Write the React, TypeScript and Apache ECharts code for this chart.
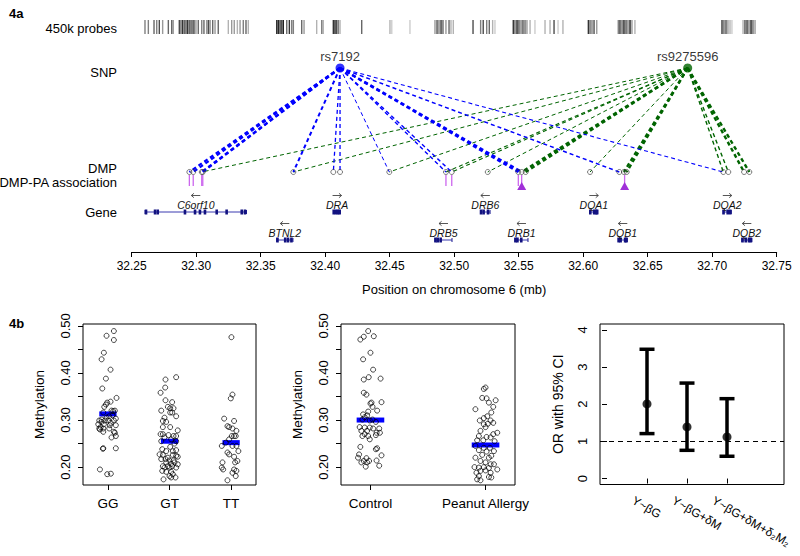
import React, { useEffect, useRef } from "react";
import * as echarts from "echarts";

const FONT = '"Liberation Sans", Arial, Helvetica, sans-serif';

// ---------- 4a data ----------
const axisName = "Position on chromosome 6 (mb)";
// 450k probe positions (mb) with grey intensity
const probeData: number[][] = [
  [32.2603, 0.5], [32.2629, 0.5], [32.2673, 0.6], [32.2694, 0.5], [32.2714, 0.7], [32.274, 0.4],
  [32.2784, 0.6], [32.281, 0.6], [32.2822, 0.4], [32.2869, 0.7], [32.2882, 0.6], [32.2895, 0.8],
  [32.2908, 0.6], [32.2921, 0.7], [32.2934, 0.8], [32.2947, 0.6], [32.296, 0.7], [32.2973, 0.5],
  [32.2983, 0.7], [32.2998, 0.4], [32.3016, 0.6], [32.3043, 0.5], [32.306, 0.6], [32.3081, 0.4],
  [32.3094, 0.7], [32.3107, 0.5], [32.3128, 0.6], [32.3146, 0.4], [32.3171, 0.6], [32.3249, 0.3],
  [32.3275, 0.4], [32.3295, 0.4], [32.3319, 0.3], [32.334, 0.4], [32.3365, 0.5], [32.3386, 0.6],
  [32.3404, 0.3],
  [32.3624, 0.8], [32.3636, 0.9], [32.365, 0.8], [32.3663, 0.7], [32.3675, 0.9], [32.3702, 0.6],
  [32.3722, 0.8], [32.374, 0.5], [32.3753, 0.5], [32.3818, 0.6], [32.3836, 0.4], [32.3934, 0.3],
  [32.3973, 0.5], [32.3985, 0.3], [32.4063, 0.8], [32.4076, 0.9], [32.4089, 0.7], [32.4102, 0.5],
  [32.4115, 0.3], [32.4283, 0.6], [32.4502, 0.3], [32.4516, 0.2], [32.4657, 0.2],
  [32.4851, 0.4], [32.4867, 0.7], [32.4882, 0.5], [32.4898, 0.8], [32.4913, 0.6], [32.4936, 0.4],
  [32.496, 0.6], [32.4975, 0.3], [32.4993, 0.3], [32.5146, 0.7], [32.5205, 0.5], [32.5225, 0.7],
  [32.5252, 0.5], [32.5272, 0.6], [32.5298, 0.3], [32.5316, 0.2], [32.5458, 0.8], [32.5471, 0.6],
  [32.5487, 0.9], [32.5502, 0.7], [32.5518, 0.5], [32.5533, 0.7], [32.5549, 0.6], [32.5564, 0.4],
  [32.5588, 0.3], [32.5626, 0.2], [32.5704, 0.3], [32.5743, 0.3], [32.5774, 0.7], [32.5805, 0.2],
  [32.5843, 0.3], [32.604, 0.8], [32.6053, 0.6], [32.6068, 0.5], [32.6084, 0.7], [32.6105, 0.4],
  [32.6272, 0.5], [32.6285, 0.8], [32.6301, 0.6], [32.6316, 0.9], [32.6332, 0.7], [32.6347, 0.5],
  [32.6363, 0.9], [32.6378, 0.4], [32.6401, 0.3], [32.7076, 0.8], [32.7091, 0.6], [32.7107, 0.7],
  [32.7122, 0.4], [32.7138, 0.3], [32.7153, 0.2], [32.7239, 0.3], [32.7254, 0.7], [32.727, 0.8],
  [32.7285, 0.5], [32.7301, 0.9], [32.7316, 0.6], [32.7332, 0.4],
];

const snpNames = ["rs7192", "rs9275596"];
const snpPos = [32.4115, 32.681];
const snpColors = ["#0000ff", "#006400"];

const dmpPos = [
  32.2947, 32.2977, 32.3043, 32.3051, 32.3753, 32.4063, 32.4115, 32.4497, 32.4936, 32.4981, 32.526,
  32.5497, 32.5523, 32.5554, 32.6053, 32.628, 32.6316, 32.6337, 32.7086, 32.7125, 32.7247, 32.7288,
];

// links: [dmp position, snp index, line weight]
const blueLinks: number[][] = [
  [32.2947, 0, 2.2], [32.2977, 0, 2.2], [32.3043, 0, 2.2], [32.3051, 0, 2.2], [32.3753, 0, 2],
  [32.4063, 0, 1.3], [32.4115, 0, 1.3], [32.4497, 0, 1], [32.4936, 0, 1.4], [32.4981, 0, 1.4],
  [32.5497, 0, 2.4], [32.5523, 0, 2.4], [32.628, 0, 1.5], [32.7086, 0, 1.1],
];
const greenLinks: number[][] = [
  [32.3043, 1, 1], [32.3753, 1, 1], [32.4497, 1, 1], [32.4936, 1, 1.1], [32.4981, 1, 1.1],
  [32.526, 1, 1], [32.5523, 1, 2.4], [32.5554, 1, 2.4], [32.6053, 1, 1], [32.6316, 1, 2.4],
  [32.6337, 1, 2.4], [32.7086, 1, 1.4], [32.7125, 1, 1.4], [32.7247, 1, 2.4], [32.7288, 1, 2.4],
];

const assocPos = [32.2947, 32.2977, 32.3043, 32.3051, 32.4936, 32.4981, 32.5497, 32.5523, 32.6321];
const sigPos = [32.5523, 32.6321];

const geneNames = ["C6orf10", "DRA", "DRB6", "DQA1", "DQA2", "BTNL2", "DRB5", "DRB1", "DQB1", "DQB2"];
const geneStart = [32.2604, 32.4066, 32.5205, 32.6053, 32.7086, 32.3624, 32.4851, 32.5471, 32.6272, 32.723];
const geneEnd = [32.339, 32.4118, 32.5278, 32.6112, 32.7148, 32.375, 32.4983, 32.5572, 32.6342, 32.7307];
const geneRow = [0, 0, 0, 0, 0, 1, 1, 1, 1, 1];
const geneStrand = ["-", "+", "-", "+", "+", "-", "-", "-", "-", "-"];
const geneExons: number[][] = [
  [32.2611, 32.2681, 32.2702, 32.2913, 32.2991, 32.3029, 32.3068, 32.3159, 32.3236, 32.3353, 32.3378],
  [32.4066, 32.4084, 32.4099, 32.4112],
  [32.5208, 32.5228, 32.5262],
  [32.6055, 32.6085, 32.61, 32.6108],
  [32.7088, 32.712, 32.714],
  [32.363, 32.369, 32.3712, 32.3738],
  [32.4855, 32.4872, 32.4895],
  [32.5475, 32.549, 32.552],
  [32.6275, 32.629, 32.6325, 32.6335],
  [32.7235, 32.726, 32.7285, 32.73],
];

// ---------- 4b data ----------
const genotypeCats = ["GG", "GT", "TT"];
const ggPoints: number[][] = [
  [0.097, 0.489], [-0.022, 0.479], [0.097, 0.47], [-0.065, 0.443], [-0.102, 0.429], [0.043, 0.407],
  [-0.032, 0.388], [-0.091, 0.367], [0.14, 0.347], [0.043, 0.339], [-0.011, 0.337], [-0.032, 0.333],
  [-0.059, 0.328], [0.059, 0.32], [0.113, 0.32], [-0.075, 0.316], [0.086, 0.319], [0.022, 0.308],
  [0.075, 0.31], [-0.022, 0.305], [-0.102, 0.301], [-0.14, 0.299], [-0.048, 0.299], [0.005, 0.299],
  [0.097, 0.299], [0.129, 0.303], [-0.102, 0.296], [0.048, 0.294], [-0.156, 0.291], [-0.065, 0.291],
  [0.032, 0.289], [0.129, 0.289], [-0.14, 0.282], [-0.129, 0.28], [-0.075, 0.282], [0.022, 0.282],
  [-0.118, 0.285], [0.097, 0.275], [0.113, 0.273], [0.129, 0.266], [-0.075, 0.275], [0.059, 0.263],
  [-0.081, 0.239], [-0.075, 0.24], [0.129, 0.24], [-0.129, 0.195], [-0.011, 0.185], [0.048, 0.186],
];
const gtPoints: number[][] = [
  [0.108, 0.391], [-0.065, 0.386], [-0.07, 0.369], [-0.145, 0.358], [-0.065, 0.342], [0.043, 0.338],
  [-0.027, 0.328], [0.011, 0.325], [0.065, 0.325], [-0.134, 0.32], [0.043, 0.316], [0.011, 0.316],
  [0.108, 0.308], [-0.081, 0.305], [-0.108, 0.298], [-0.054, 0.296], [-0.108, 0.285], [0.011, 0.285],
  [0.134, 0.278], [-0.145, 0.27], [-0.108, 0.27], [-0.016, 0.268], [0.065, 0.266], [0.108, 0.266],
  [-0.134, 0.255], [0.108, 0.255], [0.011, 0.243], [-0.054, 0.234], [0.108, 0.236], [-0.161, 0.227],
  [-0.108, 0.226], [0.054, 0.226], [-0.027, 0.22], [0.108, 0.224], [0.134, 0.222], [-0.134, 0.217],
  [-0.065, 0.217], [0.0, 0.214], [0.065, 0.214], [-0.054, 0.21], [0.027, 0.207], [0.081, 0.21],
  [0.134, 0.206], [-0.108, 0.202], [-0.027, 0.202], [0.043, 0.202], [-0.081, 0.199], [0.0, 0.199],
  [0.108, 0.199], [-0.118, 0.192], [-0.054, 0.19], [0.027, 0.19], [0.054, 0.185], [0.0, 0.181],
  [0.097, 0.178], [-0.097, 0.174], [0.027, 0.178], [-0.081, 0.263], [0.027, 0.259], [0.081, 0.25],
  [-0.118, 0.238], [0.054, 0.234],
];
const ttPoints: number[][] = [
  [0.005, 0.476], [0.022, 0.354], [-0.005, 0.346], [-0.113, 0.303], [0.048, 0.298], [-0.059, 0.287],
  [-0.032, 0.285], [0.022, 0.282], [0.086, 0.277], [0.011, 0.266], [0.048, 0.266], [0.075, 0.266],
  [-0.032, 0.259], [-0.086, 0.252], [-0.151, 0.245], [0.022, 0.245], [0.086, 0.245], [-0.059, 0.231],
  [-0.032, 0.227], [0.118, 0.234], [0.048, 0.222], [0.102, 0.213], [-0.14, 0.21], [0.065, 0.21],
  [-0.151, 0.199], [-0.129, 0.195], [0.048, 0.195], [0.086, 0.192], [0.022, 0.188], [0.075, 0.181],
  [-0.059, 0.172],
];
const genotypeMedians = [0.313, 0.255, 0.252];

const statusCats = ["Control", "Peanut Allergy"];
const controlPoints: number[][] = [
  [-0.02, 0.489], [-0.058, 0.477], [-0.088, 0.471], [0.029, 0.478], [0.0, 0.443], [-0.064, 0.429],
  [0.023, 0.407], [0.088, 0.388], [-0.058, 0.386], [-0.015, 0.391], [-0.058, 0.358], [-0.035, 0.354],
  [0.009, 0.337], [0.0, 0.335], [0.096, 0.338], [0.018, 0.328], [0.058, 0.32], [-0.02, 0.318],
  [-0.064, 0.312], [-0.05, 0.306], [-0.029, 0.31], [-0.07, 0.301], [-0.006, 0.299], [0.018, 0.301],
  [0.047, 0.296], [-0.094, 0.285], [-0.05, 0.284], [-0.006, 0.284], [0.023, 0.282], [0.076, 0.282],
  [-0.079, 0.277], [-0.029, 0.277], [0.082, 0.273], [0.053, 0.273], [-0.07, 0.266], [-0.02, 0.266],
  [-0.05, 0.27], [-0.006, 0.259], [0.047, 0.268], [-0.088, 0.243], [0.058, 0.24], [0.047, 0.238],
  [-0.099, 0.227], [0.096, 0.225], [-0.108, 0.22], [-0.035, 0.219], [-0.058, 0.213], [-0.012, 0.213],
  [-0.079, 0.21], [-0.029, 0.21], [0.053, 0.214], [-0.041, 0.201], [0.076, 0.203],
];
const allergyPoints: number[][] = [
  [0.0, 0.369], [-0.015, 0.366], [-0.088, 0.323], [-0.029, 0.347], [0.009, 0.346], [0.088, 0.342],
  [0.029, 0.337], [0.067, 0.328], [0.05, 0.316], [0.015, 0.308], [-0.015, 0.304], [-0.05, 0.299],
  [0.044, 0.299], [0.02, 0.292], [-0.015, 0.291], [0.067, 0.294], [0.0, 0.285], [-0.044, 0.277],
  [0.102, 0.273], [0.067, 0.27], [-0.058, 0.266], [0.009, 0.264], [0.044, 0.263], [-0.073, 0.257],
  [-0.02, 0.257], [0.079, 0.255], [-0.088, 0.245], [-0.015, 0.241], [0.038, 0.241], [-0.058, 0.236],
  [0.073, 0.234], [0.009, 0.233], [-0.029, 0.226], [0.05, 0.224], [-0.088, 0.22], [0.029, 0.22],
  [-0.044, 0.213], [0.0, 0.21], [0.044, 0.206], [0.073, 0.206], [-0.096, 0.2], [-0.058, 0.199],
  [-0.015, 0.2], [0.029, 0.198], [0.102, 0.195], [-0.044, 0.192], [0.0, 0.193], [-0.079, 0.188],
  [0.044, 0.188], [-0.058, 0.181], [0.029, 0.179], [-0.073, 0.174], [-0.044, 0.172], [0.05, 0.178],
];
const statusMedians = [0.3, 0.247];

const methTicks = [0.2, 0.25, 0.3, 0.35, 0.4, 0.45, 0.5];
const methLabels = [0.2, 0.3, 0.4, 0.5];

const modelLabels = ["Y~βG", "Y~βG+δM", "Y~βG+δM+δ₂M₂"];
const orEst = [2.01, 1.39, 1.12];
const orLow = [1.21, 0.76, 0.6];
const orHigh = [3.48, 2.57, 2.15];
const orTicks = [0, 1, 2, 3, 4];

// ---------- layout (page pixels for the 4a track rows) ----------
const ROW = { probeTop: 20, probeBot: 34, snp: 68, dmp: 172, assocTop: 175, assocBot: 186, triTop: 182, triBot: 190 };
const GENE_ROW_Y = [212, 240];

const txt = (s: any) => ({ fontFamily: FONT, ...s });

function buildOption(): any {
  const frameGrid = { show: true, borderColor: "#000", borderWidth: 1, backgroundColor: "transparent" };
  const tick = { show: true, length: 5, lineStyle: { color: "#000", width: 1 } };

  const methY = (idx: number) => ({
    gridIndex: idx,
    type: "value",
    min: 0.162,
    max: 0.504,
    axisLine: { show: false },
    axisTick: { ...tick, customValues: methTicks },
    axisLabel: {
      customValues: methLabels,
      formatter: (v: number) => v.toFixed(2),
      rotate: 90,
      fontSize: 13,
      color: "#000",
      margin: 11,
      fontFamily: FONT,
    },
    splitLine: { show: false },
    name: "Methylation",
    nameLocation: "middle",
    nameGap: 37,
    nameRotate: 90,
    nameTextStyle: txt({ fontSize: 13.5, color: "#000" }),
  });

  const series: any[] = [];

  // probes
  series.push({
    type: "custom",
    xAxisIndex: 0,
    yAxisIndex: 0,
    silent: true,
    data: probeData,
    renderItem: (_p: any, api: any) => {
      const a = api.coord([api.value(0), ROW.probeTop]);
      const b = api.coord([api.value(0), ROW.probeBot]);
      return {
        type: "rect",
        shape: { x: a[0] - 0.7, y: a[1], width: 1.4, height: b[1] - a[1] },
        style: { fill: `rgba(0,0,0,${api.value(1)})` },
      };
    },
  });

  // SNP–DMP links
  series.push({
    type: "custom",
    xAxisIndex: 0,
    yAxisIndex: 0,
    silent: true,
    data: [...greenLinks, ...blueLinks],
    renderItem: (_p: any, api: any) => {
      const to = api.value(0);
      const s = api.value(1);
      const w = api.value(2);
      const a = api.coord([snpPos[s], ROW.snp]);
      const b = api.coord([to, ROW.dmp]);
      return {
        type: "line",
        shape: { x1: a[0], y1: a[1], x2: b[0], y2: b[1] },
        style: { stroke: snpColors[s], lineWidth: w, lineDash: [4, 3], fill: null },
      };
    },
  });

  // DMPs
  series.push({
    type: "scatter",
    xAxisIndex: 0,
    yAxisIndex: 0,
    silent: true,
    data: dmpPos.map((p) => [p, ROW.dmp]),
    symbol: "circle",
    symbolSize: 5,
    itemStyle: { color: "rgba(255,255,255,0)", borderColor: "#333", borderWidth: 0.8 },
  });

  // SNPs
  series.push({
    type: "scatter",
    xAxisIndex: 0,
    yAxisIndex: 0,
    silent: true,
    data: snpPos.map((p, i) => ({ value: [p, ROW.snp], name: snpNames[i], itemStyle: { color: snpColors[i] } })),
    symbol: "circle",
    symbolSize: 9,
    label: {
      show: true,
      position: "top",
      distance: 1,
      formatter: (d: any) => d.name,
      fontSize: 13,
      color: "#000",
      fontFamily: FONT,
    },
  });

  // association ticks
  series.push({
    type: "custom",
    xAxisIndex: 0,
    yAxisIndex: 0,
    silent: true,
    data: assocPos.map((p) => [p, ROW.assocTop]),
    renderItem: (_p: any, api: any) => {
      const a = api.coord([api.value(0), ROW.assocTop]);
      const b = api.coord([api.value(0), ROW.assocBot]);
      return {
        type: "line",
        shape: { x1: a[0], y1: a[1], x2: b[0], y2: b[1] },
        style: { stroke: "#cc66ee", lineWidth: 1.3 },
      };
    },
  });

  // significant association triangles
  series.push({
    type: "custom",
    xAxisIndex: 0,
    yAxisIndex: 0,
    silent: true,
    data: sigPos.map((p) => [p, ROW.triBot]),
    renderItem: (_p: any, api: any) => {
      const t = api.coord([api.value(0), ROW.triTop]);
      const b = api.coord([api.value(0), ROW.triBot]);
      return {
        type: "polygon",
        shape: { points: [[t[0], t[1]], [b[0] - 4.5, b[1]], [b[0] + 4.5, b[1]]] },
        style: { fill: "#a030d8" },
      };
    },
  });

  // genes
  series.push({
    type: "custom",
    xAxisIndex: 0,
    yAxisIndex: 0,
    silent: true,
    data: geneNames.map((_n, i) => [geneStart[i], GENE_ROW_Y[geneRow[i]]]),
    renderItem: (p: any, api: any) => {
      const i = p.dataIndex;
      const yRow = GENE_ROW_Y[geneRow[i]];
      const a = api.coord([geneStart[i], yRow]);
      const b = api.coord([geneEnd[i], yRow]);
      const mid = api.coord([(geneStart[i] + geneEnd[i]) / 2, yRow]);
      const children: any[] = [
        {
          type: "line",
          shape: { x1: a[0], y1: a[1], x2: b[0], y2: b[1] },
          style: { stroke: "#3a3ab0", lineWidth: 1 },
        },
        { type: "line", shape: { x1: a[0], y1: a[1] - 2, x2: a[0], y2: a[1] + 2 }, style: { stroke: "#1a1a90", lineWidth: 1 } },
        { type: "line", shape: { x1: b[0], y1: b[1] - 2, x2: b[0], y2: b[1] + 2 }, style: { stroke: "#1a1a90", lineWidth: 1 } },
      ];
      geneExons[i].forEach((e) => {
        const c = api.coord([e, yRow]);
        children.push({
          type: "rect",
          shape: { x: c[0] - 1.3, y: c[1] - 2.5, width: 2.6, height: 5 },
          style: { fill: "#121280" },
        });
      });
      children.push({
        type: "text",
        x: mid[0],
        y: mid[1] - 7.5,
        style: {
          text: geneNames[i],
          fontSize: 10.5,
          fontStyle: "italic",
          fontFamily: FONT,
          fill: "#111",
          align: "center",
          verticalAlign: "middle",
          textAlign: "center",
          textVerticalAlign: "middle",
        },
      });
      // strand arrow
      const dir = geneStrand[i] === "+" ? 1 : -1;
      const ay = mid[1] - 16.5;
      const x0 = mid[0] - 4.5 * dir;
      const x1 = mid[0] + 4.5 * dir;
      const arrowStyle = { stroke: "#444", lineWidth: 0.9, fill: null };
      children.push({ type: "line", shape: { x1: x0, y1: ay, x2: x1, y2: ay }, style: arrowStyle });
      children.push({
        type: "polyline",
        shape: { points: [[x1 - 2.6 * dir, ay - 2.2], [x1, ay], [x1 - 2.6 * dir, ay + 2.2]] },
        style: arrowStyle,
      });
      return { type: "group", children };
    },
  });

  // genotype scatter
  [ggPoints, gtPoints, ttPoints].forEach((pts, k) => {
    series.push({
      type: "scatter",
      xAxisIndex: 1,
      yAxisIndex: 1,
      silent: true,
      data: pts.map(([dx, v]) => [k + 1 + dx, v]),
      symbol: "circle",
      symbolSize: 5,
      itemStyle: { color: "rgba(255,255,255,0)", borderColor: "#000", borderWidth: 0.9 },
    });
  });
  series.push({
    type: "custom",
    xAxisIndex: 1,
    yAxisIndex: 1,
    silent: true,
    data: genotypeMedians.map((m, k) => [k + 1, m]),
    renderItem: (_p: any, api: any) => {
      const a = api.coord([api.value(0) - 0.14, api.value(1)]);
      const b = api.coord([api.value(0) + 0.14, api.value(1)]);
      return { type: "line", shape: { x1: a[0], y1: a[1], x2: b[0], y2: b[1] }, style: { stroke: "#0000ff", lineWidth: 5 } };
    },
  });

  // status scatter
  [controlPoints, allergyPoints].forEach((pts, k) => {
    series.push({
      type: "scatter",
      xAxisIndex: 2,
      yAxisIndex: 2,
      silent: true,
      data: pts.map(([dx, v]) => [k + 1 + dx, v]),
      symbol: "circle",
      symbolSize: 5,
      itemStyle: { color: "rgba(255,255,255,0)", borderColor: "#000", borderWidth: 0.9 },
    });
  });
  series.push({
    type: "custom",
    xAxisIndex: 2,
    yAxisIndex: 2,
    silent: true,
    data: statusMedians.map((m, k) => [k + 1, m]),
    renderItem: (_p: any, api: any) => {
      const a = api.coord([api.value(0) - 0.12, api.value(1)]);
      const b = api.coord([api.value(0) + 0.12, api.value(1)]);
      return { type: "line", shape: { x1: a[0], y1: a[1], x2: b[0], y2: b[1] }, style: { stroke: "#0000ff", lineWidth: 5 } };
    },
  });

  // odds ratio error bars
  series.push({
    type: "custom",
    xAxisIndex: 3,
    yAxisIndex: 3,
    silent: true,
    data: orEst.map((e, i) => [i + 1, e, orLow[i], orHigh[i]]),
    renderItem: (_p: any, api: any) => {
      const x = api.value(0);
      const lo = api.coord([x, api.value(2)]);
      const hi = api.coord([x, api.value(3)]);
      const st = { stroke: "#000", lineWidth: 3.5 };
      return {
        type: "group",
        children: [
          { type: "line", shape: { x1: lo[0], y1: lo[1], x2: hi[0], y2: hi[1] }, style: st },
          { type: "line", shape: { x1: lo[0] - 7.5, y1: lo[1], x2: lo[0] + 7.5, y2: lo[1] }, style: st },
          { type: "line", shape: { x1: hi[0] - 7.5, y1: hi[1], x2: hi[0] + 7.5, y2: hi[1] }, style: st },
        ],
      };
    },
  });
  series.push({
    type: "scatter",
    xAxisIndex: 3,
    yAxisIndex: 3,
    silent: true,
    data: orEst.map((e, i) => [i + 1, e]),
    symbol: "circle",
    symbolSize: 9,
    itemStyle: { color: "#000" },
    markLine: {
      silent: true,
      symbol: "none",
      label: { show: false },
      lineStyle: { type: [5, 4], color: "#000", width: 1 },
      data: [{ yAxis: 1 }],
    },
  });
  // model labels (rotated)
  series.push({
    type: "custom",
    xAxisIndex: 3,
    yAxisIndex: 3,
    silent: true,
    data: modelLabels.map((_l, i) => [i + 1, -0.16]),
    renderItem: (p: any, api: any) => {
      const c = api.coord([api.value(0), api.value(1)]);
      return {
        type: "text",
        x: c[0] - 14,
        y: c[1] + 15,
        rotation: (-30 * Math.PI) / 180,
        style: {
          text: modelLabels[p.dataIndex],
          fontSize: 12,
          fontFamily: FONT,
          fill: "#000",
          align: "left",
          verticalAlign: "middle",
          textAlign: "left",
          textVerticalAlign: "middle",
        },
      };
    },
  });

  const rowLabel = (text: string, y: number) => ({
    type: "text",
    x: 117,
    y,
    style: {
      text,
      fontSize: 13,
      fontFamily: FONT,
      fill: "#000",
      align: "right",
      verticalAlign: "middle",
      textAlign: "right",
      textVerticalAlign: "middle",
    },
  });
  const panelTag = (text: string, y: number) => ({
    type: "text",
    x: 9,
    y,
    style: { text, fontSize: 13, fontWeight: "bold", fontFamily: FONT, fill: "#000", verticalAlign: "middle", textVerticalAlign: "middle" },
  });

  return {
    animation: false,
    backgroundColor: "#fff",
    textStyle: { fontFamily: FONT },
    grid: [
      { left: 131.7, right: 23.3, top: 10, bottom: 304 },
      { left: 83, right: 544, top: 324, bottom: 71, ...frameGrid },
      { left: 341, right: 285, top: 324, bottom: 71, ...frameGrid },
      { left: 600, right: 16, top: 324, bottom: 71.5, ...frameGrid },
    ],
    xAxis: [
      {
        gridIndex: 0,
        type: "value",
        min: 32.25,
        max: 32.75,
        interval: 0.05,
        axisLine: { show: true, lineStyle: { color: "#000", width: 1 } },
        axisTick: tick,
        axisLabel: { formatter: (v: number) => v.toFixed(2), fontSize: 12, color: "#000", margin: 8, fontFamily: FONT },
        splitLine: { show: false },
        name: axisName,
        nameLocation: "middle",
        nameGap: 31,
        nameTextStyle: txt({ fontSize: 13, color: "#000" }),
      },
      {
        gridIndex: 1,
        type: "value",
        min: 0.596,
        max: 3.404,
        axisLine: { show: false },
        axisTick: { ...tick, customValues: [1, 2, 3] },
        axisLabel: {
          customValues: [1, 2, 3],
          formatter: (v: number) => genotypeCats[Math.round(v) - 1],
          fontSize: 13.5,
          color: "#000",
          margin: 11,
          fontFamily: FONT,
        },
        splitLine: { show: false },
      },
      {
        gridIndex: 2,
        type: "value",
        min: 0.744,
        max: 2.256,
        axisLine: { show: false },
        axisTick: { ...tick, customValues: [1, 2] },
        axisLabel: {
          customValues: [1, 2],
          formatter: (v: number) => statusCats[Math.round(v) - 1],
          fontSize: 13.5,
          color: "#000",
          margin: 11,
          fontFamily: FONT,
        },
        splitLine: { show: false },
      },
      {
        gridIndex: 3,
        type: "value",
        min: -0.175,
        max: 4.425,
        axisLine: { show: false },
        axisTick: { ...tick, customValues: [1, 2, 3] },
        axisLabel: { show: false },
        splitLine: { show: false },
      },
    ],
    yAxis: [
      { gridIndex: 0, type: "value", min: 10, max: 252, inverse: true, show: false },
      methY(1),
      methY(2),
      {
        gridIndex: 3,
        type: "value",
        min: -0.16,
        max: 4.16,
        axisLine: { show: false },
        axisTick: { ...tick, customValues: orTicks },
        axisLabel: {
          customValues: orTicks,
          rotate: 90,
          fontSize: 13,
          color: "#000",
          margin: 11,
          fontFamily: FONT,
        },
        splitLine: { show: false },
        name: "OR with 95% CI",
        nameLocation: "middle",
        nameGap: 35,
        nameRotate: 90,
        nameTextStyle: txt({ fontSize: 14, color: "#000" }),
      },
    ],
    graphic: [
      panelTag("4a", 13),
      panelTag("4b", 323),
      rowLabel("450k probes", 28),
      rowLabel("SNP", 72),
      rowLabel("DMP", 168),
      rowLabel("DMP-PA association", 182),
      rowLabel("Gene", 212),
    ],
    series,
  };
}

export default function App() {
  const ref = useRef<HTMLDivElement>(null);
  useEffect(() => {
    if (!ref.current) return;
    const chart = echarts.init(ref.current, null, { renderer: "svg" });
    chart.setOption(buildOption());
    return () => chart.dispose();
  }, []);
  return (
    <div
      ref={ref}
      style={{ position: "absolute", left: 0, top: 0, width: 800, height: 556, background: "#fff" }}
    />
  );
}
